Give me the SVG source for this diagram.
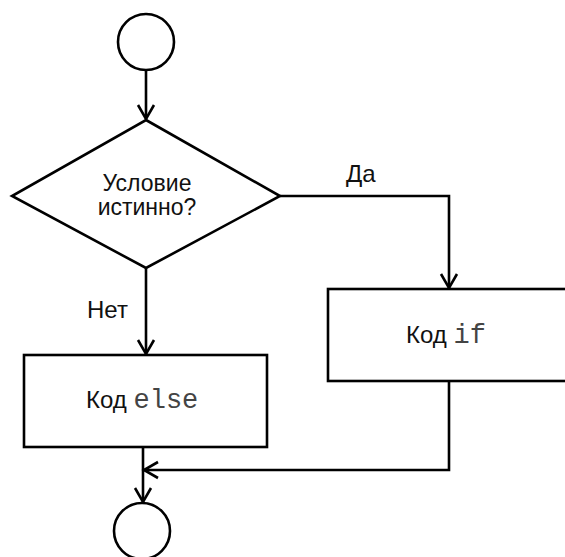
<svg xmlns="http://www.w3.org/2000/svg" width="565" height="557" viewBox="0 0 565 557">
  <style>
    .shape { fill: #ffffff; stroke: #000000; stroke-width: 2.6; }
    .wire { fill: none; stroke: #000000; stroke-width: 2.6; }
    .label { font-family: "Liberation Sans", Arial, sans-serif; font-size: 24px; fill: #111111; }
    .cond { font-size: 23px; }
    .code { font-family: "Liberation Mono", "Courier New", monospace; font-size: 27px; fill: #444444; }
  </style>
  <defs>
    <marker id="arrow" viewBox="-16 -10 20 20" markerWidth="20" markerHeight="20" refX="0" refY="0" orient="auto" markerUnits="userSpaceOnUse">
      <path d="M -14 -8 L 0 0 L -14 8" fill="none" stroke="#000000" stroke-width="2.6"/>
    </marker>
  </defs>

  <rect width="565" height="557" fill="#ffffff"/>

  <!-- connectors -->
  <g id="connectors">
    <line class="wire" x1="146" y1="70" x2="146" y2="119" marker-end="url(#arrow)"/>
    <polyline class="wire" points="280,196 449,196 449,288" marker-end="url(#arrow)"/>
    <line class="wire" x1="146" y1="268" x2="146" y2="354" marker-end="url(#arrow)"/>
    <polyline class="wire" points="449,381 449,470 144,470" marker-end="url(#arrow)"/>
    <line class="wire" x1="143" y1="447" x2="143" y2="502" marker-end="url(#arrow)"/>
    <text class="label" x="346" y="182">Да</text>
    <text class="label" x="87" y="318">Нет</text>
  </g>

  <!-- start terminator -->
  <g id="start">
    <circle class="shape" cx="146" cy="42" r="28"/>
  </g>

  <!-- decision -->
  <g id="condition">
    <polygon class="shape" points="146,120 280,196 146,268 12,196"/>
    <text class="label cond" x="147" y="191" text-anchor="middle">Условие</text>
    <text class="label cond" x="147" y="215" text-anchor="middle">истинно?</text>
  </g>

  <!-- true branch -->
  <g id="if-code">
    <rect class="shape" x="328" y="289" width="243" height="92"/>
    <text x="406" y="343"><tspan class="label">Код </tspan><tspan class="code">if</tspan></text>
  </g>

  <!-- false branch -->
  <g id="else-code">
    <rect class="shape" x="24" y="355" width="243" height="92"/>
    <text x="86" y="408"><tspan class="label">Код </tspan><tspan class="code">else</tspan></text>
  </g>

  <!-- end terminator -->
  <g id="end">
    <circle class="shape" cx="142" cy="531" r="28"/>
  </g>
</svg>
